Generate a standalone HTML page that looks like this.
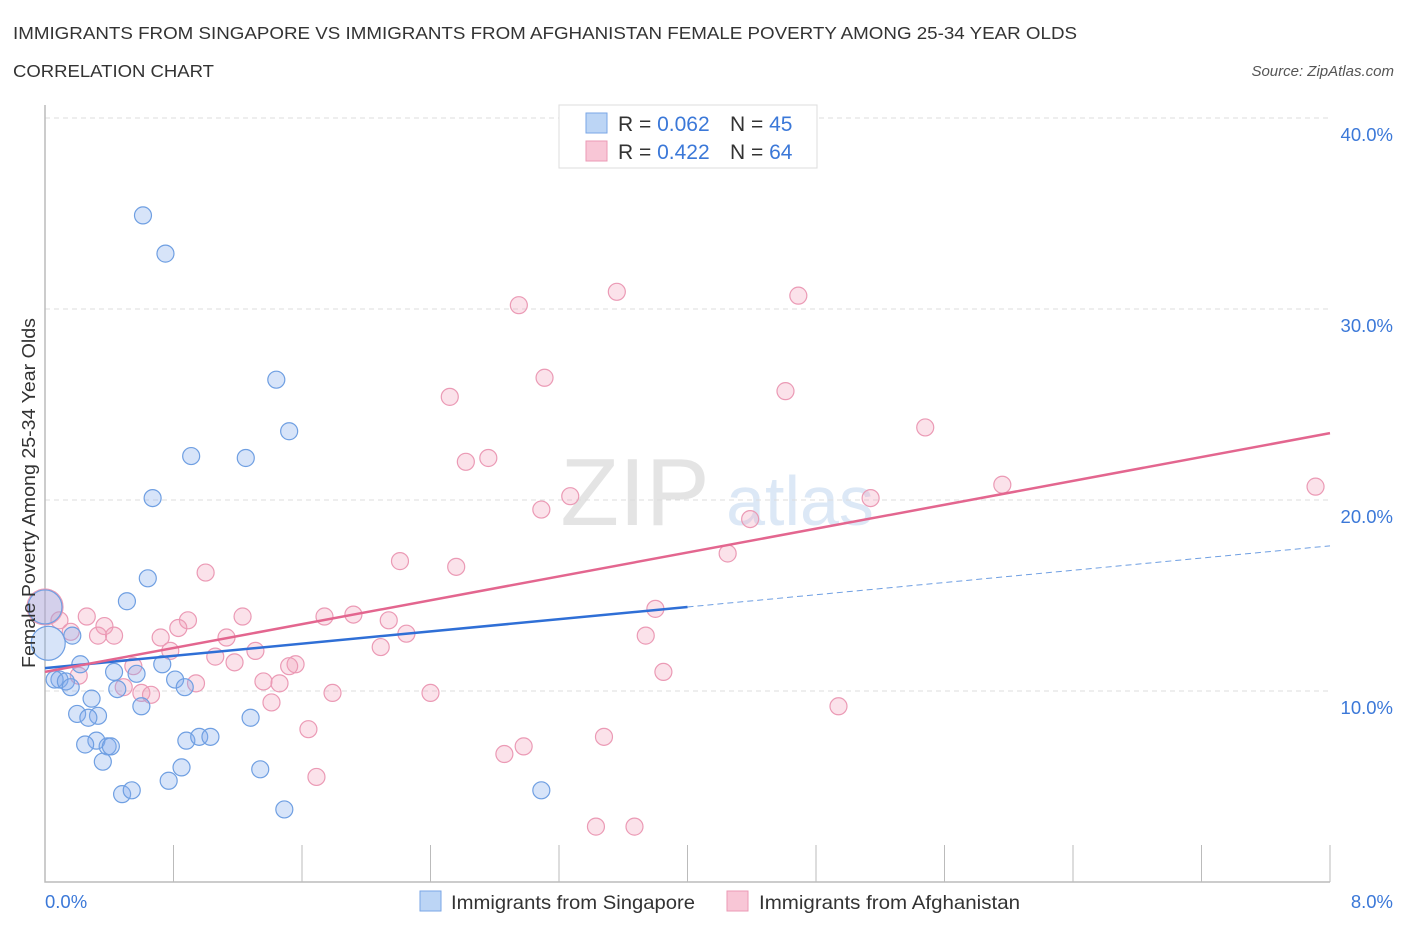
<!DOCTYPE html>
<html><head><meta charset="utf-8"><style>
body{margin:0;background:#fff;font-family:"Liberation Sans",sans-serif}
svg text{font-family:"Liberation Sans",sans-serif}
</style></head><body>
<svg id="c" width="1406" height="930" xmlns="http://www.w3.org/2000/svg">
<text x="13" y="39" font-size="17.5" fill="#333" textLength="1064" lengthAdjust="spacingAndGlyphs">IMMIGRANTS FROM SINGAPORE VS IMMIGRANTS FROM AFGHANISTAN FEMALE POVERTY AMONG 25-34 YEAR OLDS</text>
<text x="13" y="77" font-size="17.5" fill="#333" textLength="201" lengthAdjust="spacingAndGlyphs">CORRELATION CHART</text>
<text x="1394" y="76" font-size="15" fill="#555" font-style="italic" text-anchor="end">Source: ZipAtlas.com</text>
<text x="635" y="525" font-size="96" fill="#e4e4e4" font-family="Liberation Serif,serif" text-anchor="middle">ZIP</text>
<text x="800" y="525" font-size="70" fill="#dce8f6" text-anchor="middle">atlas</text>
<g id="grid"></g>
<g id="pts"></g>
<g id="lines"></g>
<text transform="translate(35,493) rotate(-90)" font-size="18" fill="#333" text-anchor="middle" textLength="350" lengthAdjust="spacingAndGlyphs">Female Poverty Among 25-34 Year Olds</text>
<text x="45" y="908" font-size="18.5" fill="#3b78d8">0.0%</text>
<text x="1393" y="908" font-size="18.5" fill="#3b78d8" text-anchor="end">8.0%</text>
<g>
<rect x="559" y="105" width="258" height="63" fill="#fff" stroke="#ddd"/>
<rect x="586" y="113" width="21" height="20" fill="#bcd5f5" stroke="#7aa6e6"/>
<rect x="586" y="141" width="21" height="20" fill="#f8c6d6" stroke="#eb9ab5"/>
<text x="618" y="131" font-size="21" fill="#333">R = <tspan fill="#3b78d8">0.062</tspan></text>
<text x="730" y="131" font-size="21" fill="#333">N = <tspan fill="#3b78d8">45</tspan></text>
<text x="618" y="159" font-size="21" fill="#333">R = <tspan fill="#3b78d8">0.422</tspan></text>
<text x="730" y="159" font-size="21" fill="#333">N = <tspan fill="#3b78d8">64</tspan></text>
</g>
<g>
<rect x="420" y="891" width="21" height="20" fill="#bcd5f5" stroke="#7aa6e6"/>
<text x="451" y="909" font-size="19.5" fill="#333" textLength="244" lengthAdjust="spacingAndGlyphs">Immigrants from Singapore</text>
<rect x="727" y="891" width="21" height="20" fill="#f8c6d6" stroke="#eb9ab5"/>
<text x="759" y="909" font-size="19.5" fill="#333" textLength="261" lengthAdjust="spacingAndGlyphs">Immigrants from Afghanistan</text>
</g>
</svg>
<script>
const yTicks=[10,20,30,40];
const yTickLabels=["10.0%","20.0%","30.0%","40.0%"];
const xTicks=[0,0.8,1.6,2.4,3.2,4,4.8,5.6,6.4,7.2,8];
const blueX=[0.61,0.75,1.44,1.52,0.91,1.25,0.67,0.64,0.51,0.0,0.02,0.17,0.22,0.09,0.06,0.13,0.16,0.43,0.57,0.73,0.81,0.87,0.45,0.29,0.60,0.20,0.33,0.27,1.28,0.32,0.25,0.39,0.41,0.88,0.96,1.03,0.36,0.85,0.77,1.34,0.48,0.54,1.49,3.09];
const blueY=[34.9,32.9,26.3,23.6,22.3,22.2,20.1,15.9,14.7,14.4,12.5,12.9,11.4,10.6,10.6,10.5,10.2,11.0,10.9,11.4,10.6,10.2,10.1,9.6,9.2,8.8,8.7,8.6,8.6,7.4,7.2,7.1,7.1,7.4,7.6,7.6,6.3,6.0,5.3,5.9,4.6,4.8,3.8,4.8];
const blueBig=[9,10];
const pinkX=[3.56,2.95,4.69,3.11,2.52,4.61,5.48,2.62,2.76,5.96,7.91,3.27,5.14,3.09,4.39,4.25,2.21,2.56,1.00,3.80,0.0,0.09,0.26,0.37,1.23,1.74,1.92,2.14,0.89,0.83,0.16,0.33,0.43,0.72,1.13,2.25,3.74,0.78,1.31,2.09,1.06,1.18,0.55,1.56,1.52,0.21,3.85,1.36,1.46,0.94,0.49,0.60,0.66,1.79,2.40,1.41,4.94,1.64,3.48,2.98,2.86,1.69,3.43,3.67];
const pinkY=[30.9,30.2,30.7,26.4,25.4,25.7,23.8,22.0,22.2,20.8,20.7,20.2,20.1,19.5,19.0,17.2,16.8,16.5,16.2,14.3,14.4,13.7,13.9,13.4,13.9,13.9,14.0,13.7,13.7,13.3,13.1,12.9,12.9,12.8,12.8,13.0,12.9,12.1,12.1,12.3,11.8,11.5,11.3,11.4,11.3,10.8,11.0,10.5,10.4,10.4,10.2,9.9,9.8,9.9,9.9,9.4,9.2,8.0,7.6,7.1,6.7,5.5,2.9,2.9];
const pinkBig=[20];
const blueTrend=[11.2,14.4,17.6]; // at x=0, 4, 8
const pinkTrend=[11.0,23.5];      // at x=0, 8
const NS="http://www.w3.org/2000/svg";
const sx=v=>45+v*(1285/8), sy=v=>882-v*19.1;
function mk(t,a,p){const e=document.createElementNS(NS,t);for(const k in a)e.setAttribute(k,a[k]);p.appendChild(e);return e;}
const grid=document.getElementById('grid');
yTicks.forEach((t,i)=>{
  const l=mk('line',{x1:45,x2:1330,y1:sy(t),y2:sy(t),stroke:'#ddd','stroke-dasharray':'5,4'},grid);
  
  
  const tx=mk('text',{x:1393,y:sy(t)+23,'font-size':18.5,fill:'#3b78d8','text-anchor':'end'},grid);
  tx.textContent=yTickLabels[i];
  
  
});
xTicks.forEach(t=>{
  const l=mk('line',{x1:sx(t),x2:sx(t),y1:845,y2:882,stroke:'#bbb'},grid);
  
  
});
const ax=mk('path',{d:'M45 105V882H1330',fill:'none',stroke:'#bbb','stroke-width':1.5},grid);


const pts=document.getElementById('pts');
pinkX.forEach((x,i)=>{
  const c=mk('circle',{cx:sx(x),cy:sy(pinkY[i]),r:pinkBig.includes(i)?18:8.5,fill:'rgba(243,160,185,0.3)',stroke:'#eb9ab5','stroke-width':1.2},pts);
  
  
});
blueX.forEach((x,i)=>{
  const c=mk('circle',{cx:sx(x),cy:sy(blueY[i]),r:blueBig.includes(i)?17:8.5,fill:'rgba(130,170,235,0.32)',stroke:'#6f9fe2','stroke-width':1.2},pts);
  
  
});
const lines=document.getElementById('lines');
const b1=mk('line',{x1:sx(0),y1:sy(blueTrend[0]),x2:sx(4),y2:sy(blueTrend[1]),stroke:'#2f6fd6','stroke-width':2.5},lines);


const b2=mk('line',{x1:sx(4),y1:sy(blueTrend[1]),x2:sx(8),y2:sy(blueTrend[2]),stroke:'#6f9fe2','stroke-width':1,'stroke-dasharray':'6,4'},lines);


const p1=mk('line',{x1:sx(0),y1:sy(pinkTrend[0]),x2:sx(8),y2:sy(pinkTrend[1]),stroke:'#e3668f','stroke-width':2.5},lines);


</script>
</body></html>
